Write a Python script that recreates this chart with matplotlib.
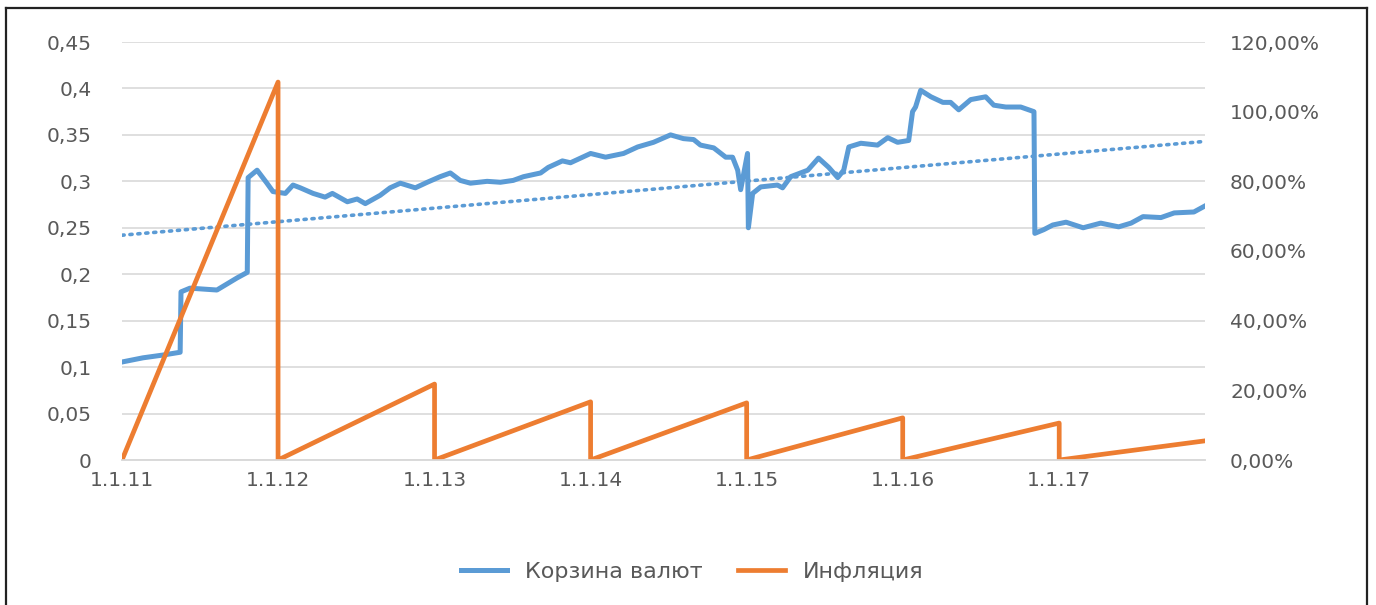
import numpy as np
import pandas as pd
import matplotlib
matplotlib.use('Agg')
import matplotlib.pyplot as plt
from matplotlib.lines import Line2D

# Корзина валют (left axis)
basket_dates = ['2011-01-01', '2011-02-19', '2011-04-07', '2011-05-17', '2011-05-19',
                '2011-06-09', '2011-08-11', '2011-09-27', '2011-10-21', '2011-10-23',
                '2011-11-13', '2011-12-06', '2011-12-20', '2012-01-18', '2012-02-05',
                '2012-02-22', '2012-03-23', '2012-04-20', '2012-05-07', '2012-06-11',
                '2012-07-04', '2012-07-23', '2012-08-27', '2012-09-19', '2012-10-13',
                '2012-11-17', '2012-12-15', '2013-01-14', '2013-02-07', '2013-03-02',
                '2013-03-26', '2013-05-04', '2013-06-04', '2013-07-04', '2013-07-28',
                '2013-09-06', '2013-09-24', '2013-10-27', '2013-11-15', '2014-01-01',
                '2014-02-05', '2014-03-19', '2014-04-21', '2014-05-28', '2014-07-07',
                '2014-08-06', '2014-08-30', '2014-09-15', '2014-10-16', '2014-11-13',
                '2014-11-29', '2014-12-11', '2014-12-18', '2015-01-03', '2015-01-05',
                '2015-01-15', '2015-02-03', '2015-03-14', '2015-03-26', '2015-04-14',
                '2015-05-24', '2015-06-18', '2015-07-12', '2015-08-02', '2015-08-16',
                '2015-08-28', '2015-09-25', '2015-11-03', '2015-11-27', '2015-12-20',
                '2016-01-15', '2016-01-24', '2016-01-31', '2016-02-12', '2016-03-07',
                '2016-04-04', '2016-04-22', '2016-05-11', '2016-06-08', '2016-07-13',
                '2016-08-01', '2016-08-29', '2016-10-03', '2016-11-03', '2016-11-05',
                '2016-11-26', '2016-12-17', '2017-01-17', '2017-02-26', '2017-04-08',
                '2017-05-20', '2017-06-18', '2017-07-16', '2017-08-27', '2017-09-27',
                '2017-11-12', '2017-12-06']
basket_values = [0.1055, 0.110, 0.113, 0.116, 0.181,
                 0.185, 0.183, 0.196, 0.202, 0.304,
                 0.312, 0.298, 0.289, 0.287, 0.296,
                 0.293, 0.287, 0.283, 0.287, 0.278,
                 0.281, 0.276, 0.285, 0.293, 0.298,
                 0.293, 0.299, 0.305, 0.309, 0.301,
                 0.298, 0.300, 0.299, 0.301, 0.305,
                 0.309, 0.315, 0.322, 0.320, 0.330,
                 0.326, 0.330, 0.337, 0.342, 0.350,
                 0.346, 0.345, 0.339, 0.336, 0.326,
                 0.326, 0.312, 0.291, 0.330, 0.250,
                 0.287, 0.294, 0.296, 0.293, 0.305,
                 0.312, 0.325, 0.315, 0.304, 0.312,
                 0.337, 0.341, 0.339, 0.347, 0.342,
                 0.344, 0.375, 0.380, 0.398, 0.391,
                 0.385, 0.385, 0.377, 0.388, 0.391,
                 0.382, 0.380, 0.380, 0.375, 0.244,
                 0.248, 0.253, 0.256, 0.250, 0.255,
                 0.251, 0.255, 0.262, 0.261, 0.266,
                 0.267, 0.273]

# linear trend of the basket (dotted)
trend_dates = ['2011-01-01', '2017-12-08']
trend_values = [0.242, 0.343]

# Инфляция (right axis), cumulative within each year
infl_dates = ['2011-01-01', '2012-01-01', '2012-01-01', '2013-01-01', '2013-01-01',
              '2014-01-01', '2014-01-01', '2015-01-01', '2015-01-01', '2016-01-01',
              '2016-01-01', '2017-01-01', '2017-01-01', '2017-12-08']
infl_values = [0.0, 1.085, 0.0, 0.218, 0.0,
               0.167, 0.0, 0.164, 0.0, 0.121,
               0.0, 0.106, 0.0, 0.055]

xtick_dates = ['2011-01-01', '2012-01-01', '2013-01-01', '2014-01-01',
               '2015-01-01', '2016-01-01', '2017-01-01']
xtick_labels = ['1.1.11', '1.1.12', '1.1.13', '1.1.14', '1.1.15', '1.1.16', '1.1.17']
left_ticks = [0, 0.05, 0.1, 0.15, 0.2, 0.25, 0.3, 0.35, 0.4, 0.45]
left_labels = ['0', '0,05', '0,1', '0,15', '0,2', '0,25', '0,3', '0,35', '0,4', '0,45']
right_ticks = [0, 0.2, 0.4, 0.6, 0.8, 1.0, 1.2]
right_labels = ['0,00%', '20,00%', '40,00%', '60,00%', '80,00%', '100,00%', '120,00%']

blue = '#5B9BD5'
orange = '#ED7D31'
grey = '#595959'

fig = plt.figure(figsize=(13.76, 6.05), dpi=100)
ax = fig.add_subplot(111)
fig.subplots_adjust(left=122/1376, right=1205/1376, top=1-42/605, bottom=1-460/605)

ax.plot(pd.to_datetime(trend_dates), trend_values, color=blue, lw=2.6,
        linestyle=(0, (0.6, 1.6)), dash_capstyle='round')
l1, = ax.plot(pd.to_datetime(basket_dates), basket_values, color=blue, lw=3.6,
              solid_joinstyle='round', label='Корзина валют')

ax2 = ax.twinx()
l2, = ax2.plot(pd.to_datetime(infl_dates), infl_values, color=orange, lw=3.4,
               label='Инфляция')

ax.set_xlim(pd.Timestamp('2011-01-01'), pd.Timestamp('2017-12-08'))
ax.set_ylim(0, 0.45)
ax2.set_ylim(0, 1.2)

ax.set_yticks(left_ticks)
ax.set_yticklabels(left_labels)
ax2.set_yticks(right_ticks)
ax2.set_yticklabels(right_labels)
ax.set_xticks(pd.to_datetime(xtick_dates))
ax.set_xticklabels(xtick_labels)

ax.grid(axis='y', color='#D9D9D9', lw=1.2)
ax.set_axisbelow(True)
for a in (ax, ax2):
    for s in ('top', 'left', 'right'):
        a.spines[s].set_visible(False)
    a.spines['bottom'].set_color('#D9D9D9')
    a.spines['bottom'].set_linewidth(1.2)
ax.tick_params(axis='y', length=0, pad=22, labelsize=14.5, labelcolor=grey)
ax2.tick_params(axis='y', length=0, pad=18, labelsize=14.5, labelcolor=grey)
ax.tick_params(axis='x', length=0, pad=8, labelsize=14.5, labelcolor=grey)

fig.legend(handles=[l1, l2], loc='center', bbox_to_anchor=(692/1376, 1-572/605),
           ncol=2, frameon=False, fontsize=16, labelcolor=grey,
           handlelength=2.1, handletextpad=0.8, columnspacing=1.6)

# outer frame
fig.add_artist(Line2D([6/1376, 6/1376], [0, 1-8/605], color='#222222', lw=1.6))
fig.add_artist(Line2D([6/1376, 1367/1376], [1-8/605, 1-8/605], color='#222222', lw=1.6))
fig.add_artist(Line2D([1367/1376, 1367/1376], [0, 1-8/605], color='#222222', lw=1.6))

fig.savefig('out.png', dpi=100)
